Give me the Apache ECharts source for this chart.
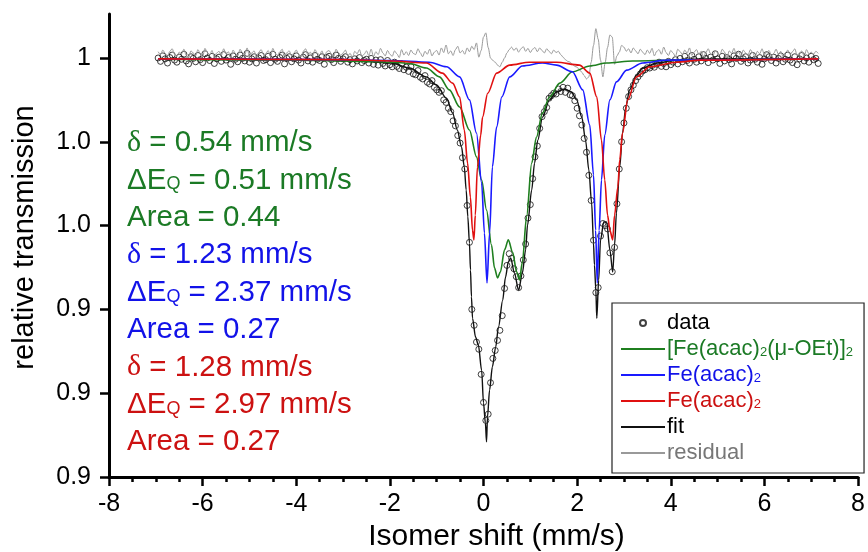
<!DOCTYPE html>
<html>
<head>
<meta charset="utf-8">
<script src="https://cdn.jsdelivr.net/npm/echarts@6/dist/echarts.min.js"></script>
<style>
  html, body { margin: 0; padding: 0; background: #fff; }
  #chart { width: 868px; height: 552px; }
</style>
</head>
<body>
<div id="chart"></div>
<script>
// velocity channels (mm/s)
const velocity = [
  -6.95,-6.9,-6.85,-6.8,-6.75,-6.7,-6.65,-6.6,-6.55,-6.5,
  -6.45,-6.4,-6.35,-6.3,-6.25,-6.2,-6.15,-6.1,-6.05,-6,
  -5.95,-5.9,-5.85,-5.8,-5.75,-5.7,-5.65,-5.6,-5.55,-5.5,
  -5.45,-5.4,-5.35,-5.3,-5.25,-5.2,-5.15,-5.1,-5.05,-5,
  -4.95,-4.9,-4.85,-4.8,-4.75,-4.7,-4.65,-4.6,-4.55,-4.5,
  -4.45,-4.4,-4.35,-4.3,-4.25,-4.2,-4.15,-4.1,-4.05,-4,
  -3.95,-3.9,-3.85,-3.8,-3.75,-3.7,-3.65,-3.6,-3.55,-3.5,
  -3.45,-3.4,-3.35,-3.3,-3.25,-3.2,-3.15,-3.1,-3.05,-3,
  -2.95,-2.9,-2.85,-2.8,-2.75,-2.7,-2.65,-2.6,-2.55,-2.5,
  -2.45,-2.4,-2.35,-2.3,-2.25,-2.2,-2.15,-2.1,-2.05,-2,
  -1.95,-1.9,-1.85,-1.8,-1.75,-1.7,-1.65,-1.6,-1.55,-1.5,
  -1.45,-1.4,-1.35,-1.3,-1.25,-1.2,-1.15,-1.1,-1.05,-1,
  -0.95,-0.9,-0.85,-0.8,-0.75,-0.7,-0.65,-0.6,-0.55,-0.5,
  -0.45,-0.4,-0.35,-0.3,-0.25,-0.2,-0.15,-0.1,-0.05,0,
  0.05,0.1,0.15,0.2,0.25,0.3,0.35,0.4,0.45,0.5,
  0.55,0.6,0.65,0.7,0.75,0.8,0.85,0.9,0.95,1,
  1.05,1.1,1.15,1.2,1.25,1.3,1.35,1.4,1.45,1.5,
  1.55,1.6,1.65,1.7,1.75,1.8,1.85,1.9,1.95,2,
  2.05,2.1,2.15,2.2,2.25,2.3,2.35,2.4,2.45,2.5,
  2.55,2.6,2.65,2.7,2.75,2.8,2.85,2.9,2.95,3,
  3.05,3.1,3.15,3.2,3.25,3.3,3.35,3.4,3.45,3.5,
  3.55,3.6,3.65,3.7,3.75,3.8,3.85,3.9,3.95,4,
  4.05,4.1,4.15,4.2,4.25,4.3,4.35,4.4,4.45,4.5,
  4.55,4.6,4.65,4.7,4.75,4.8,4.85,4.9,4.95,5,
  5.05,5.1,5.15,5.2,5.25,5.3,5.35,5.4,5.45,5.5,
  5.55,5.6,5.65,5.7,5.75,5.8,5.85,5.9,5.95,6,
  6.05,6.1,6.15,6.2,6.25,6.3,6.35,6.4,6.45,6.5,
  6.55,6.6,6.65,6.7,6.75,6.8,6.85,6.9,6.95,7,
  7.05,7.1,7.15
];

// measured relative transmission
const transmission = [
  1.0000,0.9992,1.0005,0.9998,0.9988,1.0001,1.0007,0.9995,0.9990,1.0002,
  0.9997,1.0009,0.9993,0.9986,1.0003,0.9999,0.9991,1.0006,0.9996,0.9989,
  1.0010,1.0000,0.9994,1.0004,0.9987,0.9998,1.0002,0.9992,1.0008,0.9995,
  1.0001,0.9985,1.0005,0.9997,0.9991,1.0007,0.9999,0.9993,1.0011,0.9990,
  0.9998,1.0003,0.9988,1.0000,1.0006,0.9994,0.9996,1.0004,0.9989,1.0009,
  0.9997,0.9992,1.0001,1.0007,0.9986,0.9999,1.0003,0.9991,0.9998,1.0005,
  0.9995,0.9988,1.0002,1.0008,0.9993,1.0000,0.9990,1.0006,0.9997,0.9994,
  1.0003,0.9985,1.0001,1.0004,0.9996,0.9989,1.0007,0.9999,0.9992,0.9998,
  1.0003,0.9990,0.9996,0.9986,0.9998,0.9993,1.0001,0.9989,0.9994,
  0.9997,0.9988,0.9999,0.9985,0.9995,0.9983,0.9996,0.9987,0.9981,0.9994,
  0.9984,0.9979,0.9990,0.9980,0.9975,0.9986,0.9972,0.9978,0.9968,0.9979,
  0.9962,0.9960,0.9970,0.9954,0.9950,0.9958,0.9942,0.9938,0.9946,0.9930,
  0.9924,0.9918,0.9922,0.9900,0.9894,0.9880,0.9872,0.9850,0.9838,0.9815,
  0.9797,0.9762,0.9735,0.9648,0.9560,0.9400,0.9362,0.9322,0.9305,0.9245,
  0.9178,0.9135,0.9150,0.9225,0.9283,0.9302,0.9326,0.9350,0.9385,0.9450,
  0.9505,0.9533,0.9522,0.9497,0.9478,0.9452,0.9480,0.9518,0.9556,0.9618,
  0.9650,0.9712,0.9764,0.9790,0.9832,0.9860,0.9872,0.9882,0.9904,0.9910,
  0.9916,0.9914,0.9926,0.9920,0.9930,0.9918,0.9928,0.9912,0.9910,0.9898,
  0.9880,0.9862,0.9840,0.9808,0.9775,0.9720,0.9660,0.9565,0.9440,0.9452,
  0.9575,0.9605,0.9600,0.9592,0.9535,0.9490,0.9548,0.9652,0.9735,0.9800,
  0.9845,0.9880,0.9908,0.9924,0.9935,0.9946,0.9955,0.9962,0.9969,0.9972,
  0.9977,0.9976,0.9982,0.9978,0.9985,
  0.9990,0.9980,0.9987,0.9979,0.9992,0.9984,0.9990,0.9996,0.9986,0.9999,
  0.9991,1.0004,0.9994,0.9988,1.0006,0.9997,0.9990,1.0003,0.9993,1.0008,
  0.9999,0.9989,1.0002,0.9995,1.0010,0.9998,0.9987,1.0004,0.9993,1.0001,
  0.9996,0.9986,1.0005,0.9999,1.0009,0.9992,0.9998,1.0003,0.9988,0.9995,
  1.0006,0.9997,0.9990,1.0001,0.9985,0.9998,1.0008,1.0003,0.9994,1.0002,
  0.9988,0.9999,1.0005,0.9991,0.9997,1.0007,0.9995,0.9989,1.0003,0.9984,
  0.9998,1.0006,0.9993,1.0000,0.9990,1.0004,0.9996,0.9999,0.9987
];

// residual, drawn offset above the baseline
const residual = [
  1.0015,1.0008,1.0019,1.0011,1.0004,1.0016,1.0022,1.0009,1.0003,1.0014,
  1.0010,1.0021,1.0006,1.0000,1.0017,1.0012,1.0005,1.0020,1.0010,1.0003,
  1.0023,1.0013,1.0007,1.0018,1.0001,1.0012,1.0016,1.0006,1.0022,1.0009,
  1.0015,1.0000,1.0019,1.0011,1.0005,1.0021,1.0013,1.0007,1.0024,1.0004,
  1.0012,1.0017,1.0002,1.0014,1.0020,1.0008,1.0010,1.0018,1.0003,1.0023,
  1.0011,1.0006,1.0015,1.0021,1.0000,1.0013,1.0017,1.0005,1.0012,1.0019,
  1.0009,1.0002,1.0016,1.0022,1.0007,1.0014,1.0004,1.0020,1.0011,1.0008,
  1.0017,0.9999,1.0015,1.0018,1.0010,1.0003,1.0021,1.0013,1.0006,1.0012,
  1.0019,1.0005,1.0011,1.0001,1.0016,1.0010,1.0020,1.0004,1.0009,1.0017,
  1.0006,1.0021,1.0003,1.0015,1.0008,1.0023,1.0012,1.0005,1.0018,1.0009,
  1.0004,1.0017,1.0010,1.0001,1.0020,1.0007,1.0015,1.0006,1.0019,1.0011,
  1.0008,1.0022,1.0012,1.0003,1.0016,1.0009,1.0021,1.0005,1.0014,1.0018,
  1.0007,1.0024,1.0013,1.0031,1.0010,1.0017,1.0006,1.0020,1.0028,1.0012,
  1.0018,1.0009,1.0024,1.0015,1.0028,1.0020,1.0036,1.0002,1.0018,1.0050,
  1.0060,1.0025,1.0000,0.9994,0.9990,0.9983,0.9979,0.9990,1.0000,1.0012,
  1.0020,1.0026,1.0018,1.0024,1.0014,1.0022,1.0027,1.0016,1.0023,1.0013,
  1.0021,1.0025,1.0015,1.0024,1.0018,1.0012,1.0022,1.0016,1.0010,1.0019,
  1.0013,1.0016,1.0008,1.0002,0.9996,0.9992,0.9990,0.9985,0.9980,0.9978,
  0.9972,0.9966,0.9958,0.9950,0.9955,0.9990,1.0030,1.0070,1.0045,0.9995,
  0.9955,0.9990,1.0025,1.0055,1.0050,0.9985,1.0005,1.0014,1.0030,1.0026,
  1.0016,1.0022,1.0012,1.0024,1.0017,1.0010,1.0021,1.0014,1.0008,1.0019,
  1.0011,1.0023,1.0005,1.0016,1.0020,1.0009,1.0026,1.0013,1.0006,1.0018,
  1.0012,1.0003,1.0021,1.0015,1.0008,1.0019,1.0011,1.0024,1.0006,1.0014,
  1.0020,1.0009,1.0016,1.0002,1.0013,1.0022,1.0010,1.0005,1.0018,1.0012,
  1.0007,1.0021,1.0014,1.0000,1.0017,1.0011,1.0023,1.0008,1.0015,1.0004,
  1.0019,1.0012,1.0006,1.0020,1.0013,1.0002,1.0016,1.0010,1.0022,1.0007,
  1.0014,1.0018,1.0005,1.0011,1.0021,1.0009,1.0016,1.0003,1.0013,1.0019,
  1.0008,1.0015,1.0022,1.0006,1.0012,1.0017,1.0004,1.0020,1.0010,1.0014,
  1.0009,1.0016,1.0011
];

// fitted curves: [velocity, transmission]
const fitCurve = [
  [-6.95,0.9997],[-5.0,0.9997],[-4.0,0.9996],[-3.0,0.9994],[-2.65,0.9993],[-1.95,0.9988],
  [-1.58,0.9976],[-1.22,0.9955],[-1.01,0.9936],[-0.79,0.9904],[-0.66,0.9869],[-0.56,0.9828],
  [-0.47,0.9788],[-0.41,0.9740],[-0.37,0.9685],[-0.335,0.9621],[-0.30,0.9558],[-0.278,0.9494],
  [-0.257,0.9430],[-0.235,0.9379],[-0.17,0.9334],[-0.11,0.9315],[-0.04,0.9255],[0.0,0.9177],
  [0.04,0.9129],[0.065,0.9084],[0.085,0.9143],[0.13,0.9208],[0.19,0.9263],[0.26,0.9310],
  [0.32,0.9358],[0.41,0.9422],[0.47,0.9477],[0.53,0.9513],[0.58,0.9523],[0.66,0.9487],
  [0.75,0.9446],[0.83,0.9487],[0.90,0.9542],[0.94,0.9601],[1.03,0.9685],[1.09,0.9749],
  [1.16,0.9804],[1.26,0.9859],[1.41,0.9900],[1.56,0.9919],[1.73,0.9926],[1.88,0.9919],
  [1.99,0.9900],[2.10,0.9859],[2.18,0.9804],[2.25,0.9733],[2.31,0.9654],[2.35,0.9558],
  [2.37,0.9506],[2.40,0.9446],[2.42,0.9379],[2.46,0.9470],[2.50,0.9566],[2.57,0.9609],
  [2.63,0.9609],[2.70,0.9542],[2.76,0.9489],[2.80,0.9554],[2.84,0.9630],[2.91,0.9740],
  [2.97,0.9821],[3.04,0.9883],[3.12,0.9924],[3.27,0.9959],[3.40,0.9976],[3.70,0.9988],
  [4.13,0.9995],[4.62,0.9998],[7.15,0.9998]
];
const dimerCurve = [
  [-6.95,0.9997],[-4.0,0.9995],[-3.0,0.9993],[-2.65,0.9992],[-1.95,0.9990],[-1.58,0.9987],
  [-1.22,0.9976],[-0.94,0.9955],[-0.73,0.9924],[-0.51,0.9883],[-0.30,0.9828],[-0.15,0.9764],
  [-0.04,0.9709],[0.065,0.9637],[0.17,0.9554],[0.235,0.9499],[0.30,0.9475],[0.36,0.9489],
  [0.45,0.9542],[0.53,0.9566],[0.62,0.9537],[0.71,0.9489],[0.77,0.9470],[0.83,0.9513],
  [0.92,0.9621],[1.03,0.9749],[1.13,0.9811],[1.26,0.9869],[1.41,0.9907],[1.63,0.9940],
  [1.90,0.9967],[2.27,0.9981],[2.63,0.9988],[3.19,0.9993],[4.19,0.9995],[7.15,0.9998]
];
const blueCurve = [
  [-6.95,0.9998],[-3.0,0.9996],[-2.0,0.9994],[-1.16,0.9990],[-0.79,0.9979],[-0.51,0.9955],
  [-0.30,0.9900],[-0.15,0.9821],[-0.04,0.9702],[0.02,0.9582],[0.075,0.9463],[0.13,0.9582],
  [0.19,0.9740],[0.28,0.9835],[0.39,0.9907],[0.56,0.9955],[0.83,0.9981],[1.26,0.9988],
  [1.56,0.9983],[1.90,0.9967],[2.12,0.9924],[2.27,0.9840],[2.35,0.9721],[2.395,0.9589],
  [2.43,0.9463],[2.47,0.9589],[2.52,0.9709],[2.59,0.9816],[2.70,0.9900],[2.84,0.9943],
  [3.06,0.9971],[3.40,0.9988],[3.91,0.9995],[7.15,0.9998]
];
const redCurve = [
  [-6.95,0.9998],[-3.0,0.9996],[-1.95,0.9993],[-1.22,0.9988],[-0.88,0.9964],[-0.66,0.9940],
  [-0.51,0.9907],[-0.41,0.9828],[-0.34,0.9749],[-0.28,0.9668],[-0.235,0.9589],[-0.205,0.9566],
  [-0.175,0.9625],[-0.13,0.9740],[-0.06,0.9816],[-0.02,0.9859],[0.09,0.9916],[0.28,0.9964],
  [0.56,0.9983],[0.98,0.9990],[1.56,0.9990],[2.05,0.9983],[2.27,0.9964],[2.42,0.9907],
  [2.52,0.9804],[2.59,0.9709],[2.65,0.9625],[2.70,0.9589],[2.76,0.9566],[2.80,0.9625],
  [2.87,0.9692],[2.91,0.9757],[2.97,0.9821],[3.08,0.9900],[3.27,0.9955],[3.55,0.9979],
  [4.13,0.9990],[4.62,0.9995],[7.15,0.9998]
];

// axis ticks
const yTickValues = [0.90, 0.92, 0.94, 0.96, 0.98, 1.00];
const yTickLabels = ['0.9', '0.9', '0.9', '1.0', '1.0', '1'];

// fit parameters shown on the plot
const isomerShift = ['0.54', '1.23', '1.28'];
const quadSplit = ['0.51', '2.37', '2.97'];
const areaFrac = ['0.44', '0.27', '0.27'];

const GREEN = '#1b7a25', BLUE = '#1212e8', RED = '#cc1111';
const FONT = '"Liberation Sans", Arial, sans-serif';
const componentColors = [GREEN, BLUE, RED];

const points = velocity.map((v, i) => [v, transmission[i]]);
const residualLine = velocity.map((v, i) => [v, residual[i]]);

const chart = echarts.init(document.getElementById('chart'));

const notes = [];
for (let k = 0; k < 3; k++) {
  const lines = [
    '{d|δ} = ' + isomerShift[k] + ' mm/s',
    'ΔE{q|Q} = ' + quadSplit[k] + ' mm/s',
    'Area = ' + areaFrac[k]
  ];
  lines.forEach((t, j) => {
    notes.push({
      type: 'text',
      x: 127,
      y: 143 + (k * 3 + j) * 37.4,
      silent: true,
      style: {
        text: t,
        fill: componentColors[k],
        fontSize: 29.5,
        fontFamily: FONT,
        verticalAlign: 'middle',
        rich: {
          d: { fontSize: 30, fontFamily: '"Liberation Serif", serif' },
          q: { fontSize: 18, verticalAlign: 'bottom', padding: [0, 0, 2, 0] }
        }
      }
    });
  });
}

const legendText = name => name.trim().replace(/\)2/g, '){s|2}').replace(/\]2/g, ']{s|2}');

// legend entries for lines: plain stroke, no marker dot
const noDot = { color: 'rgba(0,0,0,0)', borderWidth: 0 };

const lineSeries = (name, data, color, width, z) => ({
  name, type: 'line', data, symbol: 'none', smooth: 0.3, smoothMonotone: 'x',
  lineStyle: { color, width }, itemStyle: { color }, z, silent: true
});

chart.setOption({
  animation: false,
  backgroundColor: '#fff',
  grid: { left: 109, right: 10, top: 14, bottom: 75, outerBoundsMode: 'none', containLabel: false },
  xAxis: {
    type: 'value', min: -8, max: 8, interval: 2,
    name: 'Isomer shift (mm/s)', nameLocation: 'middle', nameGap: 44,
    nameTextStyle: { fontSize: 30, fontFamily: FONT, color: '#000', padding: [0, 0, 0, 26] },
    axisLine: { onZero: false, lineStyle: { color: '#000', width: 3 } },
    axisTick: { inside: false, length: 9, lineStyle: { color: '#000', width: 2.5 } },
    minorTick: { show: true, splitNumber: 4, length: 5, lineStyle: { color: '#000', width: 2.5 } },
    axisLabel: { fontSize: 25, fontFamily: FONT, color: '#000', margin: 15 },
    splitLine: { show: false }
  },
  yAxis: {
    type: 'value', min: 0.9, max: 1.0105,
    name: 'relative transmission', nameLocation: 'middle', nameGap: 70,
    nameTextStyle: { fontSize: 29, fontFamily: FONT, color: '#000', padding: [0, 0, 0, 16] },
    axisLine: { show: true, onZero: false, lineStyle: { color: '#000', width: 3 } },
    axisTick: { show: true, length: 9, customValues: yTickValues, lineStyle: { color: '#000', width: 2.5 } },
    axisLabel: {
      fontSize: 25, fontFamily: FONT, color: '#000', margin: 18,
      customValues: yTickValues,
      formatter: v => {
        const i = yTickValues.findIndex(t => Math.abs(t - v) < 1e-6);
        return i < 0 ? '' : yTickLabels[i];
      }
    },
    splitLine: { show: false }
  },
  legend: {
    orient: 'vertical', left: 612, top: 303,
    padding: [9, 11, 9, 8],
    itemWidth: 44, itemHeight: 6, itemGap: 4,
    borderColor: '#222', borderWidth: 1.2,
    formatter: legendText,
    textStyle: {
      fontSize: 22, fontFamily: FONT, lineHeight: 22, padding: [0, 0, 0, -3],
      rich: { s: { fontSize: 13, fontFamily: FONT, verticalAlign: 'bottom', padding: [0, 0, 1, 0] } }
    },
    data: [
      { name: 'data', icon: 'circle', textStyle: { color: '#000' } },
      { name: '[Fe(acac)2(μ-OEt)]2', itemStyle: noDot, textStyle: { color: GREEN } },
      { name: 'Fe(acac)2', itemStyle: noDot, textStyle: { color: BLUE } },
      { name: 'Fe(acac)2 ', itemStyle: noDot, textStyle: { color: RED } },
      { name: 'fit', itemStyle: noDot, textStyle: { color: '#000' } },
      { name: 'residual', itemStyle: noDot, textStyle: { color: '#777' } }
    ]
  },
  graphic: notes,
  series: [
    {
      name: 'data', type: 'scatter', data: points, symbol: 'circle', symbolSize: 6,
      itemStyle: { color: 'rgba(0,0,0,0)', borderColor: '#111', borderWidth: 1 },
      z: 2, silent: true
    },
    lineSeries('residual', residualLine, '#999', 1, 3),
    lineSeries('fit', fitCurve, '#111', 1.4, 4),
    lineSeries('[Fe(acac)2(μ-OEt)]2', dimerCurve, '#1f7f1f', 1.6, 5),
    lineSeries('Fe(acac)2', blueCurve, '#1a1aff', 1.6, 6),
    lineSeries('Fe(acac)2 ', redCurve, '#e01010', 1.6, 7)
  ]
});
</script>
</body>
</html>
